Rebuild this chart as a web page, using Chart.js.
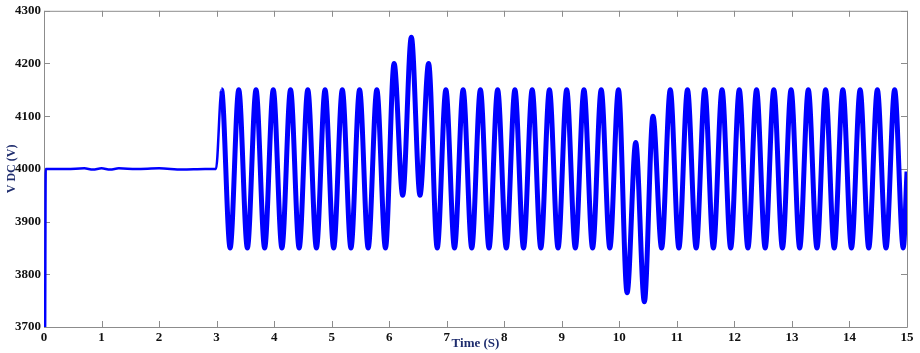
<!DOCTYPE html>
<html>
<head>
<meta charset="utf-8">
<script src="https://cdn.jsdelivr.net/npm/chart.js@4.4.1/dist/chart.umd.min.js"></script>
<style>
  html, body { margin: 0; padding: 0; background: #fff; }
  #wrap { width: 920px; height: 353px; }
</style>
</head>
<body>
<div id="wrap"><canvas id="vdc"></canvas></div>
<script>
// DC link voltage
// before the disturbance (t < 3 s) the voltage sits at ~4000 V
const steadyTime = [0.02, 0.03, 0.4, 0.7, 0.85, 1.0, 1.15, 1.3, 1.6, 2.0, 2.4, 2.8, 2.99];
const steadyV    = [3700, 4000, 4000, 4001, 3999, 4001, 3999, 4001, 4000, 4001, 3999, 4000, 4000];

// oscillation crests
const peakTime = [3.085, 3.385, 3.685, 3.985, 4.285, 4.585, 4.885, 5.185, 5.485, 5.785,
                  6.085, 6.385, 6.685, 6.985, 7.285, 7.585, 7.885, 8.185, 8.485, 8.785,
                  9.085, 9.385, 9.685, 9.985, 10.285, 10.585, 10.885, 11.185, 11.485, 11.785,
                  12.085, 12.385, 12.685, 12.985, 13.285, 13.585, 13.885, 14.185, 14.485, 14.785];
const peakV = [4150, 4150, 4150, 4150, 4150, 4150, 4150, 4150, 4150, 4150,
               4200, 4250, 4200, 4150, 4150, 4150, 4150, 4150, 4150, 4150,
               4150, 4150, 4150, 4150, 4050, 4100, 4150, 4150, 4150, 4150,
               4150, 4150, 4150, 4150, 4150, 4150, 4150, 4150, 4150, 4150];

// oscillation troughs
const troughTime = [3.235, 3.535, 3.835, 4.135, 4.435, 4.735, 5.035, 5.335, 5.635, 5.935,
                    6.235, 6.535, 6.835, 7.135, 7.435, 7.735, 8.035, 8.335, 8.635, 8.935,
                    9.235, 9.535, 9.835, 10.135, 10.435, 10.735, 11.035, 11.335, 11.635, 11.935,
                    12.235, 12.535, 12.835, 13.135, 13.435, 13.735, 14.035, 14.335, 14.635, 14.935];
const troughV = [3850, 3850, 3850, 3850, 3850, 3850, 3850, 3850, 3850, 3850,
                 3950, 3950, 3850, 3850, 3850, 3850, 3850, 3850, 3850, 3850,
                 3850, 3850, 3850, 3765, 3748, 3850, 3850, 3850, 3850, 3850,
                 3850, 3850, 3850, 3850, 3850, 3850, 3850, 3850, 3850, 3850];

const endTime = 15;
const endV = 3995;

const xTicks = [0, 1, 2, 3, 4, 5, 6, 7, 8, 9, 10, 11, 12, 13, 14, 15];
const yTicks = [3700, 3800, 3900, 4000, 4100, 4200, 4300];

// build point list
const points = [];
steadyTime.forEach((t, i) => points.push({ x: t, y: steadyV[i] }));
peakTime.forEach((t, i) => {
  points.push({ x: t, y: peakV[i] });
  points.push({ x: troughTime[i], y: troughV[i] });
});
points.push({ x: endTime, y: endV });

const serif = "'Liberation Serif', 'Times New Roman', serif";
const frameColor = '#8c8c8c';

// MATLAB style box with inward ticks on all sides
const boxTicks = {
  id: 'boxTicks',
  beforeDatasetsDraw(chart) {
    const { ctx, chartArea: a, scales } = chart;
    const len = 6;
    ctx.save();
    ctx.strokeStyle = frameColor;
    ctx.lineWidth = 1;
    ctx.beginPath();
    ctx.rect(a.left + 0.5, a.top + 0.5, a.right - a.left, a.bottom - a.top);
    xTicks.forEach(v => {
      const px = Math.round(scales.x.getPixelForValue(v)) + 0.5;
      ctx.moveTo(px, a.bottom); ctx.lineTo(px, a.bottom - len);
      ctx.moveTo(px, a.top); ctx.lineTo(px, a.top + len);
    });
    yTicks.forEach(v => {
      const py = Math.round(scales.y.getPixelForValue(v)) + 0.5;
      ctx.moveTo(a.left, py); ctx.lineTo(a.left + len, py);
      ctx.moveTo(a.right, py); ctx.lineTo(a.right - len, py);
    });
    ctx.stroke();
    ctx.restore();
  }
};

new Chart(document.getElementById('vdc'), {
  type: 'line',
  data: {
    datasets: [{
      data: points,
      borderColor: '#0000ff',
      borderWidth: 4,
      pointRadius: 0,
      fill: false,
      cubicInterpolationMode: 'monotone',
      segment: {
        borderWidth: c => (c.p0.parsed.x < 3 ? 2.5 : 5)
      }
    }]
  },
  options: {
    responsive: true,
    maintainAspectRatio: false,
    animation: false,
    layout: { padding: { top: 5, right: 13, bottom: 0, left: 0 } },
    plugins: {
      legend: { display: false },
      tooltip: { enabled: false }
    },
    scales: {
      x: {
        type: 'linear',
        min: 0,
        max: 15,
        afterFit: s => { s.height = 26; },
        afterBuildTicks: s => { s.ticks = xTicks.map(v => ({ value: v })); },
        grid: { display: false, drawTicks: false },
        border: { display: false },
        ticks: {
          padding: 3,
          color: '#111',
          font: { family: serif, size: 13, weight: 'bold' },
          maxRotation: 0,
          callback: v => String(v)
        },
        title: {
          display: true,
          text: 'Time (S)',
          color: '#1f2d6e',
          font: { family: serif, size: 13, weight: 'bold' },
          padding: { top: 0, bottom: 2 }
        }
      },
      y: {
        min: 3700,
        max: 4300,
        afterFit: s => { s.width = 44; },
        afterBuildTicks: s => { s.ticks = yTicks.map(v => ({ value: v })); },
        grid: { display: false, drawTicks: false },
        border: { display: false },
        ticks: {
          padding: 3,
          color: '#111',
          font: { family: serif, size: 13, weight: 'bold' },
          callback: v => String(v)
        },
        title: {
          display: true,
          text: 'V DC (V)',
          color: '#1f2d6e',
          font: { family: serif, size: 12, weight: 'bold' },
          padding: { top: 5, bottom: 0 }
        }
      }
    }
  },
  plugins: [boxTicks]
});
</script>
</body>
</html>
